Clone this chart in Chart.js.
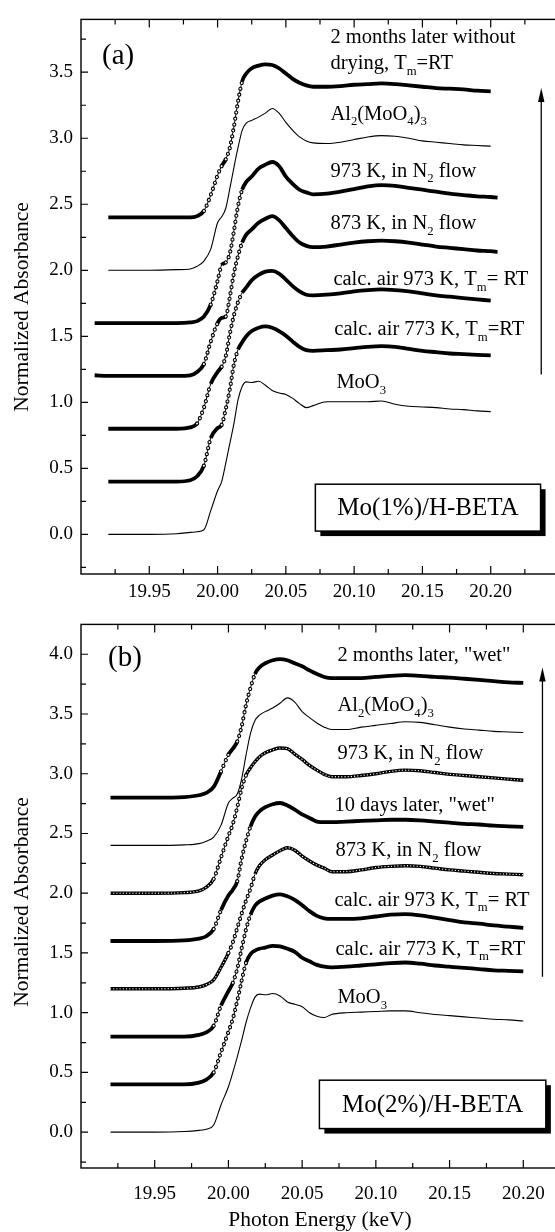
<!DOCTYPE html>
<html>
<head>
<meta charset="utf-8">
<script src="https://cdn.jsdelivr.net/npm/chart.js@4.4.0/dist/chart.umd.min.js"></script>
<style>
html, body { margin: 0; padding: 0; background: #fff; overflow: hidden; }
#page { position: relative; width: 555px; height: 1232px; overflow: hidden; background: #fff; }
#chartA { position: absolute; left: 0; top: 0; width: 560px; height: 606px; }
#chartB { position: absolute; left: 0; top: 605px; width: 600px; height: 627px; }
</style>
</head>
<body>
<div id="page">
  <canvas id="chartA" width="560" height="606"></canvas>
  <canvas id="chartB" width="600" height="627"></canvas>
</div>
<script>
// photon energy grid (keV), shared by every spectrum
const energy = [19.91, 19.92, 19.95, 19.97, 19.98, 19.985, 19.99, 19.995, 20.000, 20.003,
  20.006, 20.009, 20.012, 20.015, 20.018, 20.021, 20.025, 20.03, 20.035, 20.04,
  20.045, 20.05, 20.055, 20.06, 20.065, 20.07, 20.08, 20.09, 20.10, 20.11,
  20.12, 20.13, 20.14, 20.15, 20.16, 20.17, 20.18, 20.19, 20.20, 20.205];

// tick labels
const xTicks = [19.95, 20.00, 20.05, 20.10, 20.15, 20.20];
const xMinor = [19.925, 19.975, 20.025, 20.075, 20.125, 20.175, 20.225];
const yTicksA = [0.0, 0.5, 1.0, 1.5, 2.0, 2.5, 3.0, 3.5];
const yMinorA = [-0.25, 0.25, 0.75, 1.25, 1.75, 2.25, 2.75, 3.25, 3.75];
const yTicksB = [0.0, 0.5, 1.0, 1.5, 2.0, 2.5, 3.0, 3.5, 4.0];
const yMinorB = [-0.25, 0.25, 0.75, 1.25, 1.75, 2.25, 2.75, 3.25, 3.75];

// panel (a): Mo(1%)/H-BETA, normalized absorbance (offset curves)
const moO3A = [null, 0.00, 0.00, 0.005, 0.015, 0.02, 0.035, 0.18, 0.33, 0.40, 0.54, 0.69, 0.84, 1.02, 1.12, 1.155, 1.15, 1.16, 1.13, 1.09, 1.07, 1.06, 1.03, 0.99, 0.96, 0.975, 1.005, 1.005, 1.005, 1.005, 1.01, 0.985, 0.97, 0.965, 0.96, 0.95, 0.945, 0.935, 0.93, null];
const calc773A = [null, 0.40, 0.40, 0.40, 0.41, 0.44, 0.52, 0.73, 0.805, 0.83, 0.95, 1.10, 1.29, 1.40, 1.455, 1.50, 1.54, 1.565, 1.575, 1.565, 1.54, 1.505, 1.46, 1.42, 1.395, 1.39, 1.395, 1.40, 1.41, 1.42, 1.425, 1.42, 1.405, 1.39, 1.38, 1.37, 1.365, 1.36, 1.355, null];
const calc973A = [null, 0.80, 0.80, 0.80, 0.81, 0.84, 0.96, 1.14, 1.23, 1.27, 1.35, 1.52, 1.66, 1.76, 1.83, 1.87, 1.925, 1.965, 1.99, 1.995, 1.975, 1.93, 1.88, 1.84, 1.815, 1.81, 1.815, 1.825, 1.84, 1.85, 1.855, 1.85, 1.84, 1.825, 1.81, 1.80, 1.79, 1.78, 1.77, null];
const n873A = [1.205, 1.20, 1.20, 1.20, 1.205, 1.23, 1.29, 1.46, 1.60, 1.64, 1.65, 1.80, 1.98, 2.11, 2.21, 2.27, 2.31, 2.36, 2.39, 2.41, 2.38, 2.32, 2.26, 2.21, 2.185, 2.175, 2.18, 2.195, 2.21, 2.22, 2.225, 2.22, 2.21, 2.195, 2.18, 2.17, 2.16, 2.15, 2.145, 2.14];
const n973A = [1.60, 1.60, 1.60, 1.60, 1.605, 1.615, 1.65, 1.74, 1.92, 2.04, 2.06, 2.13, 2.30, 2.49, 2.61, 2.67, 2.71, 2.77, 2.80, 2.82, 2.79, 2.71, 2.655, 2.61, 2.59, 2.575, 2.58, 2.595, 2.615, 2.635, 2.645, 2.64, 2.625, 2.61, 2.595, 2.58, 2.57, 2.56, 2.555, 2.55];
const al2A = [null, 2.00, 2.00, 2.005, 2.01, 2.03, 2.07, 2.16, 2.36, 2.405, 2.47, 2.62, 2.78, 2.93, 3.06, 3.115, 3.135, 3.16, 3.19, 3.225, 3.19, 3.12, 3.06, 3.01, 2.98, 2.965, 2.96, 2.97, 2.99, 3.01, 3.02, 3.015, 3.00, 2.98, 2.97, 2.96, 2.95, 2.945, 2.94, null];
const m2A = [null, 2.40, 2.40, 2.40, 2.40, 2.41, 2.45, 2.57, 2.72, 2.79, 2.84, 2.93, 3.09, 3.28, 3.43, 3.49, 3.53, 3.55, 3.56, 3.555, 3.53, 3.49, 3.45, 3.42, 3.40, 3.39, 3.39, 3.395, 3.405, 3.41, 3.415, 3.41, 3.40, 3.39, 3.38, 3.375, 3.37, 3.36, 3.355, null];

// panel (b): Mo(2%)/H-BETA
const moO3B = [null, 0.00, 0.00, 0.005, 0.015, 0.025, 0.06, 0.23, 0.38, 0.50, 0.63, 0.77, 0.92, 1.04, 1.13, 1.155, 1.15, 1.16, 1.14, 1.09, 1.07, 1.05, 1.00, 0.97, 0.96, 0.985, 1.00, 1.005, 1.01, 1.015, 1.015, 1.00, 0.985, 0.975, 0.965, 0.955, 0.945, 0.94, 0.93, null];
const calc773B = [null, 0.40, 0.40, 0.40, 0.415, 0.44, 0.50, 0.67, 0.84, 0.95, 1.10, 1.27, 1.42, 1.49, 1.52, 1.535, 1.545, 1.56, 1.555, 1.535, 1.51, 1.46, 1.43, 1.40, 1.385, 1.38, 1.385, 1.395, 1.405, 1.415, 1.42, 1.41, 1.395, 1.385, 1.375, 1.365, 1.355, 1.35, 1.345, null];
const calc973B = [null, 0.80, 0.80, 0.80, 0.815, 0.835, 0.89, 1.06, 1.18, 1.25, 1.37, 1.54, 1.70, 1.82, 1.895, 1.93, 1.955, 1.98, 1.99, 1.975, 1.945, 1.90, 1.85, 1.81, 1.79, 1.785, 1.785, 1.79, 1.805, 1.82, 1.825, 1.815, 1.795, 1.775, 1.755, 1.745, 1.73, 1.72, 1.71, null];
const n873B = [null, 1.20, 1.20, 1.205, 1.215, 1.235, 1.275, 1.38, 1.50, 1.59, 1.71, 1.83, 1.94, 2.04, 2.16, 2.23, 2.28, 2.32, 2.355, 2.38, 2.36, 2.31, 2.27, 2.235, 2.21, 2.18, 2.18, 2.195, 2.215, 2.225, 2.23, 2.225, 2.21, 2.195, 2.185, 2.175, 2.165, 2.16, 2.155, null];
const d10B = [null, 1.60, 1.60, 1.605, 1.62, 1.64, 1.70, 1.86, 1.98, 2.03, 2.10, 2.29, 2.44, 2.56, 2.64, 2.685, 2.72, 2.745, 2.755, 2.735, 2.70, 2.66, 2.63, 2.60, 2.595, 2.595, 2.60, 2.605, 2.61, 2.615, 2.615, 2.61, 2.60, 2.59, 2.58, 2.575, 2.565, 2.56, 2.555, null];
const n973B = [null, 2.00, 2.00, 2.005, 2.02, 2.05, 2.12, 2.30, 2.48, 2.58, 2.72, 2.88, 2.99, 3.05, 3.10, 3.14, 3.175, 3.20, 3.215, 3.21, 3.165, 3.12, 3.07, 3.03, 2.995, 2.975, 2.975, 2.985, 3.00, 3.02, 3.03, 3.025, 3.01, 2.995, 2.985, 2.975, 2.965, 2.955, 2.945, null];
const al2B = [null, 2.40, 2.40, 2.405, 2.415, 2.435, 2.47, 2.57, 2.755, 2.795, 2.83, 2.96, 3.16, 3.34, 3.445, 3.49, 3.52, 3.55, 3.59, 3.635, 3.60, 3.52, 3.47, 3.425, 3.39, 3.37, 3.37, 3.39, 3.405, 3.42, 3.435, 3.43, 3.41, 3.39, 3.375, 3.365, 3.355, 3.35, 3.345, null];
const m2B = [null, 2.80, 2.80, 2.805, 2.82, 2.84, 2.89, 3.02, 3.16, 3.21, 3.27, 3.40, 3.58, 3.72, 3.835, 3.89, 3.925, 3.95, 3.96, 3.95, 3.925, 3.90, 3.865, 3.835, 3.81, 3.80, 3.80, 3.80, 3.81, 3.82, 3.825, 3.82, 3.81, 3.805, 3.795, 3.785, 3.775, 3.765, 3.76, null];

// curve names (_{..} = subscript)
const namesA = ['2 months later without', 'drying, T_{m}=RT', 'Al_{2}(MoO_{4})_{3}', '973 K, in N_{2} flow',
  '873 K, in N_{2} flow', 'calc. air 973 K, T_{m}= RT', 'calc. air 773 K, T_{m}=RT', 'MoO_{3}'];
const namesB = ['2 months later, "wet"', 'Al_{2}(MoO_{4})_{3}', '973 K, in N_{2} flow', '10 days later, "wet"',
  '873 K, in N_{2} flow', 'calc. air 973 K, T_{m}= RT', 'calc. air 773 K, T_{m}=RT', 'MoO_{3}'];

const FONT = 'Liberation Serif';

// is this piece of line a steep edge (in pixels)?
function steep(c) {
  const dx = Math.abs(c.p1.x - c.p0.x) || 0.01;
  return Math.abs(c.p1.y - c.p0.y) / dx > 2.2;
}

// thin = reference compound, thick = sample with circles, chain = open circles all along
function curveSets(vals, kind) {
  const pts = energy.map((e, i) => ({ x: e, y: vals[i] }));
  const base = { data: pts, borderColor: '#000', pointRadius: 0, fill: false, spanGaps: false,
    cubicInterpolationMode: 'monotone', borderJoinStyle: 'round' };
  if (kind === 'thin') {
    return [Object.assign({}, base, { borderWidth: 1.1, order: 3 })];
  }
  const wide = kind === 'chain' ? 3.4 : 3.8;
  return [
    Object.assign({}, base, { order: 3, borderWidth: wide,
      segment: { borderWidth: c => steep(c) ? 1 : wide } }),
    Object.assign({}, base, { order: 2, borderWidth: 4.2, borderCapStyle: 'round', borderDash: [0.01, 6],
      segment: { borderColor: c => steep(c) ? '#000' : 'rgba(0,0,0,0)' } }),
    Object.assign({}, base, { order: 1, borderWidth: 2, borderCapStyle: 'round', borderDash: [0.01, 6],
      segment: {
        borderColor: c => steep(c) || kind === 'chain' ? '#fff' : 'rgba(0,0,0,0)',
        borderWidth: c => steep(c) ? 2 : 1.3,
        borderDash: c => steep(c) ? [0.01, 6] : [0.01, 3.2]
      } })
  ];
}

// text with subscripts
function drawRich(ctx, str, x, y, size) {
  const parts = str.split(/(_\{[^}]*\})/);
  let px = x;
  parts.forEach(p => {
    if (!p) return;
    if (p.startsWith('_{')) {
      const t = p.slice(2, -1);
      ctx.font = (size * 0.62) + 'px "' + FONT + '"';
      ctx.fillText(t, px, y + size * 0.28);
      px += ctx.measureText(t).width;
    } else {
      ctx.font = size + 'px "' + FONT + '"';
      ctx.fillText(p, px, y);
      px += ctx.measureText(p).width;
    }
  });
}

const decor = {
  id: 'decor',
  afterDatasetsDraw(chart, args, o) {
    const { ctx, chartArea: a } = chart;
    const x = chart.scales.x, y = chart.scales.y;
    ctx.save();
    ctx.strokeStyle = '#000';
    ctx.fillStyle = '#000';
    // frame with inward ticks
    ctx.lineWidth = 1.4;
    ctx.strokeRect(a.left, a.top, a.right - a.left, a.bottom - a.top);
    ctx.lineWidth = 1.2;
    ctx.beginPath();
    xTicks.forEach(v => {
      const px = x.getPixelForValue(v);
      ctx.moveTo(px, a.bottom); ctx.lineTo(px, a.bottom - 8);
      ctx.moveTo(px, a.top); ctx.lineTo(px, a.top + 8);
    });
    xMinor.forEach(v => {
      const px = x.getPixelForValue(v);
      ctx.moveTo(px, a.bottom); ctx.lineTo(px, a.bottom - 5);
      ctx.moveTo(px, a.top); ctx.lineTo(px, a.top + 5);
    });
    o.yMajor.forEach(v => {
      const py = y.getPixelForValue(v);
      ctx.moveTo(a.left, py); ctx.lineTo(a.left + 7, py);
    });
    o.yMinor.forEach(v => {
      const py = y.getPixelForValue(v);
      ctx.moveTo(a.left, py); ctx.lineTo(a.left + 5, py);
    });
    ctx.stroke();

    // curve labels
    ctx.textBaseline = 'alphabetic';
    ctx.textAlign = 'left';
    o.names.forEach((n, i) => {
      const p = o.namePos[i];
      drawRich(ctx, n, x.getPixelForValue(p[0]), y.getPixelForValue(p[1]), 20.5);
    });

    // panel letter
    ctx.font = '29px "' + FONT + '"';
    ctx.fillText(o.letter[0], x.getPixelForValue(o.letter[1]), y.getPixelForValue(o.letter[2]));

    // arrow
    const ax = x.getPixelForValue(o.arrow[0]);
    const ay0 = y.getPixelForValue(o.arrow[1]), ay1 = y.getPixelForValue(o.arrow[2]);
    ctx.lineWidth = 1.3;
    ctx.beginPath(); ctx.moveTo(ax, ay0); ctx.lineTo(ax, ay1 + 10); ctx.stroke();
    ctx.beginPath(); ctx.moveTo(ax, ay1); ctx.lineTo(ax - 3.2, ay1 + 14); ctx.lineTo(ax + 3.2, ay1 + 14); ctx.closePath(); ctx.fill();

    // sample box with shadow
    const bx0 = x.getPixelForValue(o.box[1]), bx1 = x.getPixelForValue(o.box[2]);
    const by0 = y.getPixelForValue(o.box[3]), by1 = y.getPixelForValue(o.box[4]);
    ctx.fillRect(bx0 + 5, by0 + 5, bx1 - bx0, by1 - by0);
    ctx.fillStyle = '#fff';
    ctx.fillRect(bx0, by0, bx1 - bx0, by1 - by0);
    ctx.lineWidth = 1.5;
    ctx.strokeRect(bx0, by0, bx1 - bx0, by1 - by0);
    ctx.fillStyle = '#000';
    ctx.font = '25px "' + FONT + '"';
    ctx.textAlign = 'center';
    ctx.textBaseline = 'middle';
    ctx.fillText(o.box[0], (bx0 + bx1) / 2, (by0 + by1) / 2 + 1);

    // axis titles
    ctx.font = '21.5px "' + FONT + '"';
    ctx.save();
    ctx.translate(o.yTitle[1], o.yTitle[2]);
    ctx.rotate(-Math.PI / 2);
    ctx.fillText(o.yTitle[0], 0, 0);
    ctx.restore();
    if (o.xTitle) {
      ctx.textBaseline = 'alphabetic';
      ctx.fillText(o.xTitle[0], o.xTitle[1], o.xTitle[2]);
    }
    ctx.restore();
  }
};

function makeChart(id, sets, yMin, yMax, yTicks, pad, xHeight, xPad, deco) {
  return new Chart(document.getElementById(id), {
    type: 'line',
    data: { datasets: sets },
    options: {
      responsive: false,
      animation: false,
      events: [],
      layout: { padding: pad },
      plugins: { legend: { display: false }, tooltip: { enabled: false }, decor: deco },
      scales: {
        x: {
          type: 'linear', min: 19.90, max: 20.25,
          grid: { display: false, drawTicks: false }, border: { display: false },
          afterBuildTicks: s => { s.ticks = xTicks.map(v => ({ value: v })); },
          afterFit: s => { s.height = xHeight; },
          ticks: { autoSkip: false, maxRotation: 0, padding: xPad, color: '#000',
            font: { family: FONT, size: 19 }, callback: v => Number(v).toFixed(2) }
        },
        y: {
          type: 'linear', min: yMin, max: yMax,
          grid: { display: false, drawTicks: false }, border: { display: false },
          afterBuildTicks: s => { s.ticks = yTicks.map(v => ({ value: v })); },
          afterFit: s => { s.width = 81; },
          ticks: { autoSkip: false, padding: 8, color: '#000',
            font: { family: FONT, size: 19 }, callback: v => Number(v).toFixed(1) }
        }
      }
    },
    plugins: [decor]
  });
}

const setsA = [].concat(
  curveSets(m2A, 'thick'), curveSets(al2A, 'thin'), curveSets(n973A, 'thick'),
  curveSets(n873A, 'thick'), curveSets(calc973A, 'thick'), curveSets(calc773A, 'thick'),
  curveSets(moO3A, 'thin'));

const setsB = [].concat(
  curveSets(m2B, 'thick'), curveSets(al2B, 'thin'), curveSets(n973B, 'chain'),
  curveSets(d10B, 'thick'), curveSets(n873B, 'chain'), curveSets(calc973B, 'thick'),
  curveSets(calc773B, 'thick'), curveSets(moO3B, 'thin'));

makeChart('chartA', setsA, -0.3, 3.9, yTicksA, { left: 0, top: 13, right: 1, bottom: 0 }, 32, 7, {
  yMajor: yTicksA, yMinor: yMinorA,
  names: namesA,
  namePos: [[20.0826, 3.72], [20.0826, 3.525], [20.0826, 3.14], [20.0826, 2.71],
    [20.0826, 2.31], [20.0848, 1.885], [20.0855, 1.51], [20.087, 1.105]],
  letter: ['(a)', 19.9154, 3.565],
  arrow: [20.237, 1.21, 3.38],
  box: ['Mo(1%)/H-BETA', 20.0716, 20.2365, 0.38, 0.025],
  yTitle: ['Normalized Absorbance', 22, 307]
});

makeChart('chartB', setsB, -0.3, 4.25, yTicksB, { left: 0, top: 3, right: 3, bottom: 0 }, 64, 15, {
  yMajor: yTicksB, yMinor: yMinorB,
  names: namesB,
  namePos: [[20.0739, 3.94], [20.0739, 3.525], [20.0739, 3.12], [20.0719, 2.69],
    [20.0726, 2.31], [20.0719, 1.895], [20.0726, 1.485], [20.0739, 1.08]],
  letter: ['(b)', 19.9183, 3.90],
  arrow: [20.213, 1.30, 3.89],
  box: ['Mo(2%)/H-BETA', 20.0617, 20.2153, 0.435, 0.03],
  yTitle: ['Normalized Absorbance', 22, 297],
  xTitle: ['Photon Energy (keV)', 320, 621]
});
</script>
</body>
</html>
